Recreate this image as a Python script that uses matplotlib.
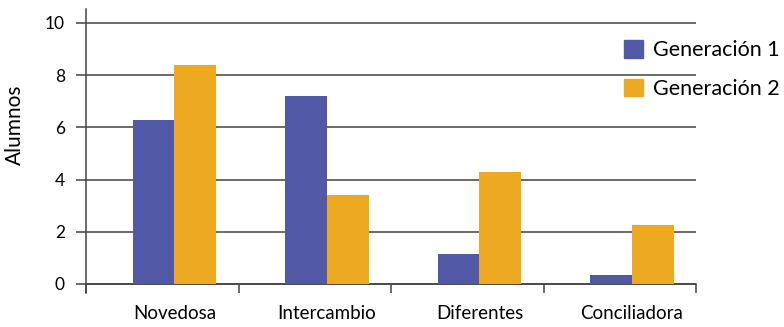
import matplotlib
matplotlib.use("Agg")
import matplotlib.pyplot as plt
import numpy as np
from matplotlib.patches import Patch

categories = ["Novedosa", "Intercambio", "Diferentes", "Conciliadora"]
gen1 = [6.3, 7.2, 1.15, 0.33]
gen2 = [8.4, 3.4, 4.3, 2.25]
series_names = ["Generación 1", "Generación 2"]
yticks = [0, 2, 4, 6, 8, 10]

c1 = "#5159A6"
c2 = "#EDA922"
plt.rcParams['font.family'] = ['Lato', 'DejaVu Sans']

fig = plt.figure(figsize=(7.84, 3.27), dpi=100)
ax = fig.add_axes([86/784, 1-293/327, (696-86)/784, (293-9)/327])

x = np.arange(len(categories))
off = 0.08
w = 0.275
ax.bar(x + off - w/2, gen1, width=w, color=c1, zorder=3)
ax.bar(x + off + w/2, gen2, width=w, color=c2, zorder=3)

ax.set_xlim(-0.5, 3.5)
ax.set_ylim(-0.345, 10.536)
ax.set_yticks(yticks)
ax.set_yticklabels([str(t) for t in yticks])
ax.yaxis.grid(True, color='#5f5f5f', lw=1.3, zorder=0)
ax.set_axisbelow(True)

ax.set_xticks(np.arange(-0.5, 4.0, 1.0))
ax.set_xticklabels([])
ax.set_xticks(x + off, minor=True)
ax.set_xticklabels(categories, minor=True)
ax.tick_params(axis='x', which='minor', length=0, pad=15, labelsize=13.5)
ax.tick_params(axis='x', which='major', length=6.5, width=1.1, color='#444444', direction='out')
ax.tick_params(axis='y', length=7.2, width=1.3, color='#5f5f5f', pad=8, labelsize=12.5)

for s in ['top', 'right']:
    ax.spines[s].set_visible(False)
ax.spines['bottom'].set_position(('data', 0))
ax.spines['bottom'].set_color('#444444')
ax.spines['left'].set_color('#444444')
ax.spines['bottom'].set_linewidth(1.1)
ax.spines['left'].set_linewidth(1.1)

fig.text(15/784, 1-125/327, "Alumnos", rotation=90, ha='center', va='center', fontsize=15)

handles = [Patch(color=c1), Patch(color=c2)]
fig.legend(handles, series_names, loc='upper left', bbox_to_anchor=(624/784, 1-40/327),
           frameon=False, fontsize=15.5, borderpad=0, borderaxespad=0,
           handlelength=0.88, handleheight=0.88, handletextpad=0.45, labelspacing=0.85)

fig.savefig("out.png", dpi=100)
